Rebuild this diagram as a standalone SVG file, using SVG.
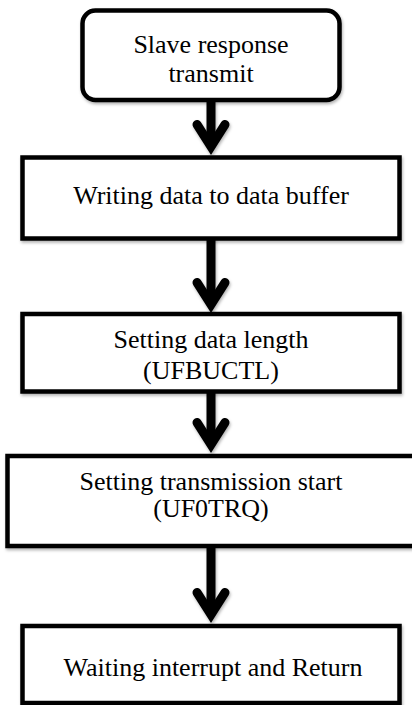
<svg xmlns="http://www.w3.org/2000/svg" width="412" height="705" viewBox="0 0 412 705">
  <style>
    .box { fill: #ffffff; stroke: #000000; stroke-width: 4.5; }
    .label { font-family: "Liberation Serif", "Times New Roman", serif; font-size: 26px; fill: #000000; text-anchor: middle; }
    .flow { stroke: #000000; stroke-width: 9; fill: none; }
  </style>
  <defs>
    <!-- user-space region so the straight vertical connectors keep their shadow -->
    <filter id="soft-shadow" filterUnits="userSpaceOnUse" x="0" y="0" width="412" height="705">
      <feDropShadow dx="1" dy="2" stdDeviation="1.5" flood-color="#000000" flood-opacity="0.3"/>
    </filter>
    <!-- open chevron head for the flow arrows -->
    <marker id="chevron" markerUnits="userSpaceOnUse" orient="auto" refX="0" refY="0"
            markerWidth="40" markerHeight="40" viewBox="-30 -20 40 40" overflow="visible">
      <path d="M -22 -14 L 0 0 L -22 14" fill="none" stroke="#000000" stroke-width="9"
            stroke-linecap="round" stroke-linejoin="miter"/>
    </marker>
  </defs>

  <rect width="412" height="705" fill="#ffffff"/>

  <!-- connectors -->
  <g id="connectors" filter="url(#soft-shadow)">
    <line class="flow" x1="211" y1="100" x2="211" y2="146.5" marker-end="url(#chevron)"/>
    <line class="flow" x1="211" y1="238" x2="211" y2="304.5" marker-end="url(#chevron)"/>
    <line class="flow" x1="211" y1="391" x2="211" y2="444.5" marker-end="url(#chevron)"/>
    <line class="flow" x1="211" y1="546" x2="211" y2="614.5" marker-end="url(#chevron)"/>
  </g>

  <!-- start: rounded terminator -->
  <g id="slave-response-transmit">
    <rect class="box" x="82.5" y="10.5" width="257" height="89.5" rx="13" ry="13" filter="url(#soft-shadow)"/>
    <text class="label" x="211" y="53">Slave response</text>
    <text class="label" x="211" y="82">transmit</text>
  </g>

  <g id="write-data-buffer">
    <rect class="box" x="22.5" y="157.5" width="377" height="81" filter="url(#soft-shadow)"/>
    <text class="label" x="211" y="204">Writing data to data buffer</text>
  </g>

  <g id="set-data-length">
    <rect class="box" x="22.5" y="314" width="377" height="77.5" filter="url(#soft-shadow)"/>
    <text class="label" x="211" y="348">Setting data length</text>
    <text class="label" x="211" y="379">(UFBUCTL)</text>
  </g>

  <g id="set-transmission-start">
    <rect class="box" x="7.5" y="456" width="420" height="90" filter="url(#soft-shadow)"/>
    <text class="label" x="211" y="490">Setting transmission start</text>
    <text class="label" x="211" y="517">(UF0TRQ)</text>
  </g>

  <g id="wait-and-return">
    <rect class="box" x="22.5" y="626" width="377" height="77" filter="url(#soft-shadow)"/>
    <text class="label" x="213" y="676">Waiting interrupt and Return</text>
  </g>
</svg>
